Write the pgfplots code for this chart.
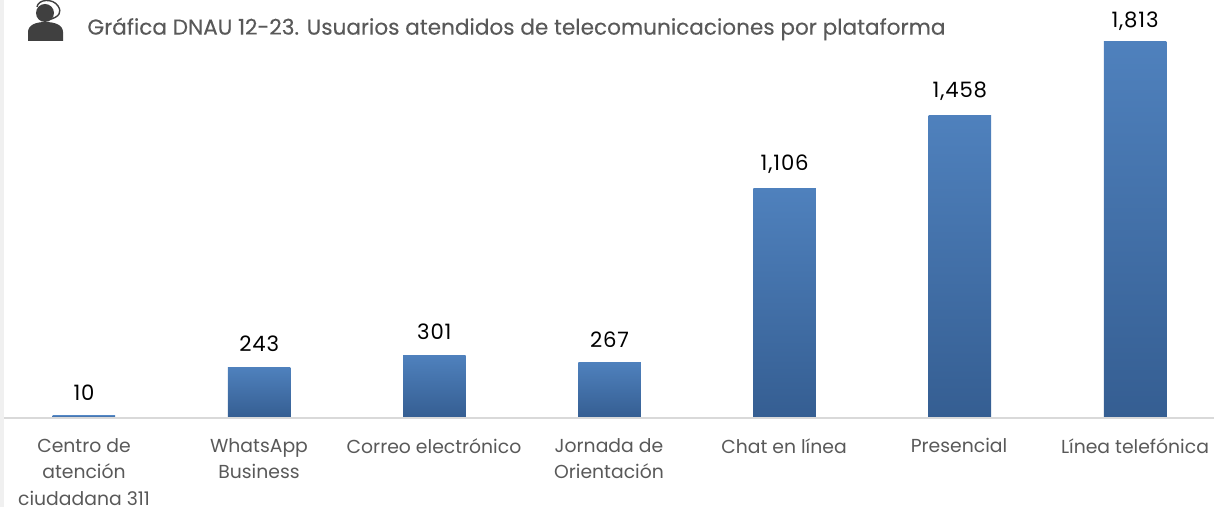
\documentclass[border=0pt]{standalone}
\usepackage{fontspec}
\setmainfont{Poppins}
\newfontfamily\numfont{Poppins}[Numbers=Monospaced,LetterSpace=4]
\newfontfamily\ttlfont{Poppins}[FakeBold=0.25]
\usepackage{pgfplots}
\pgfplotsset{compat=1.18}
\definecolor{bartop}{HTML}{4F81BD}
\definecolor{barbot}{HTML}{355E92}
\definecolor{ttl}{HTML}{595959}
\definecolor{lab}{HTML}{595959}
\definecolor{icon}{HTML}{404040}
\definecolor{rule}{HTML}{D9D9D9}
\begin{document}
\begin{tikzpicture}
\useasboundingbox (0,0) rectangle (607pt,253.5pt);
\clip (0,0) rectangle (607pt,253.5pt);
\fill[black!6] (0,0) rectangle (2pt,253.5pt);
\begin{axis}[
  at={(0pt,44.75pt)},anchor=south west,
  scale only axis,
  width=607pt,height=208.5pt,
  xmin=-0.4795,xmax=6.451,ymin=0,ymax=2010.6,
  axis lines=none,
  clip=false,
  ybar,bar width=31.25pt,bar shift=0pt,
  xtick=\empty,
  ytick=\empty,
  nodes near coords,
  every node near coord/.append style={font=\numfont\fontsize{10.6}{12}\selectfont,text=black,yshift=4pt,
    /pgf/number format/fixed,/pgf/number format/1000 sep={,},/pgf/number format/assume math mode=true},
  bbar/.style={draw=none,shade,top color=bartop,bottom color=barbot,shading angle=0},
]
\addplot[bbar] coordinates {(0,10)};
\addplot[bbar] coordinates {(1,243)};
\addplot[bbar] coordinates {(2,301)};
\addplot[bbar] coordinates {(3,267)};
\addplot[bbar] coordinates {(4,1106)};
\addplot[bbar] coordinates {(5,1458)};
\addplot[bbar,every node near coord/.append style={yshift=-2pt}] coordinates {(6,1813)};
\end{axis}
\begin{scope}[x=0.5pt,y=-0.5pt,yshift=253.5pt]
\draw[rule,line width=1pt] (4,418) -- (1214,418);
\foreach \px/\txt in {84/{Centro de\\atención\\ciudadana 311},259/{WhatsApp\\Business},434/{Correo electrónico},609/{Jornada de\\Orientación},784/{Chat en línea},959/{Presencial},1135/{Línea telefónica}}{
  \node[anchor=north,align=center,text=lab,font=\fontsize{9.4}{13.2}\selectfont,inner sep=0pt] at (\px,438) {\txt};
}
\node[anchor=west,text=ttl,font=\ttlfont\fontsize{10.8}{12}\selectfont,inner sep=0pt] at (87,29) {Gráfica DNAU 12-23. Usuarios atendidos de telecomunicaciones por plataforma};
\fill[icon] (45,13) circle (9);
\draw[icon,line width=0.7pt] (37,7) .. controls (38,-1) and (53,-2) .. (58,6) .. controls (62,12) and (60,17) .. (48,20);
\fill[icon] (28,41) -- (28,32) .. controls (28,25) and (36,22) .. (45,22) .. controls (55,22) and (63,25) .. (63,32) -- (63,41) -- cycle;
\end{scope}
\end{tikzpicture}
\end{document}
